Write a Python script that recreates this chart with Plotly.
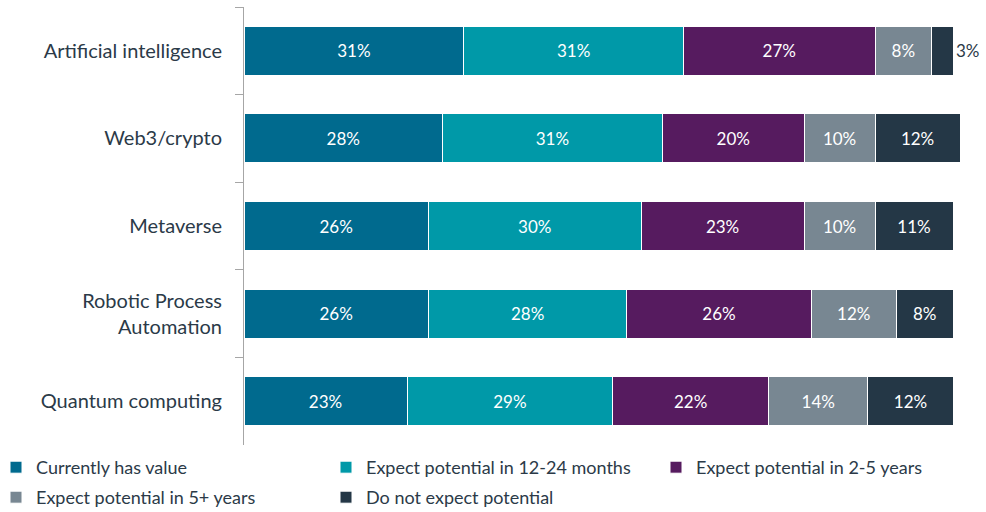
import plotly.graph_objects as go

categories = ["Artificial intelligence", "Web3/crypto", "Metaverse",
              "Robotic Process<br>Automation", "Quantum computing"]

series_names = ["Currently has value", "Expect potential in 12-24 months",
                "Expect potential in 2-5 years", "Expect potential in 5+ years",
                "Do not expect potential"]

currently_has_value = [31, 28, 26, 26, 23]
potential_12_24_months = [31, 31, 30, 28, 29]
potential_2_5_years = [27, 20, 23, 26, 22]
potential_5_plus_years = [8, 10, 10, 12, 14]
no_potential = [3, 12, 11, 8, 12]

series_values = [currently_has_value, potential_12_24_months, potential_2_5_years,
                 potential_5_plus_years, no_potential]
colors = ["#006A8E", "#0099A8", "#561B5F", "#788792", "#243746"]
# first three series sit on the upper legend row, the rest on the lower one
legend_rows = ["legend", "legend", "legend", "legend2", "legend2"]

FONT = "Lato, Carlito, Calibri, sans-serif"
TEXT_DARK = "#2B3A48"

W, H = 986, 512
M_L, M_R, M_T, M_B = 244, 0, 7, 67
PLOT_W = W - M_L - M_R
PLOT_H = H - M_T - M_B
FULL_BAR_PX = 709  # pixel length of a 100% bar

fig = go.Figure()
for name, vals, color, leg in zip(series_names, series_values, colors, legend_rows):
    # narrow segments get their label placed just past the bar end
    positions = ["outside" if v < 5 else "inside" for v in vals]
    text_colors = [TEXT_DARK if v < 5 else "white" for v in vals]
    fig.add_trace(go.Bar(
        name=name,
        y=categories,
        x=vals,
        orientation="h",
        legend=leg,
        marker=dict(color=color, line=dict(color="white", width=1)),
        text=[f"{v}%" for v in vals],
        textposition=positions,
        insidetextanchor="middle",
        textangle=0,
        constraintext="none",
        cliponaxis=False,
        textfont=dict(family=FONT, size=17, color=text_colors),
        hoverinfo="skip",
    ))

legend_common = dict(
    orientation="h",
    xref="paper", yref="paper",
    x=-(M_L + 4) / PLOT_W,
    xanchor="left", yanchor="top",
    entrywidth=285,
    entrywidthmode="pixels",
    traceorder="normal",
    itemwidth=30,
    bgcolor="rgba(0,0,0,0)",
    font=dict(family=FONT, size=18, color=TEXT_DARK),
)

fig.update_layout(
    barmode="stack",
    bargap=0.44,
    width=W,
    height=H,
    margin=dict(l=M_L, r=M_R, t=M_T, b=M_B, autoexpand=False),
    paper_bgcolor="white",
    plot_bgcolor="white",
    font=dict(family=FONT, color=TEXT_DARK),
    showlegend=True,
    legend=dict(legend_common, y=-4 / PLOT_H),
    legend2=dict(legend_common, y=-34 / PLOT_H),
    xaxis=dict(
        range=[0, 100 * PLOT_W / FULL_BAR_PX],
        visible=False,
        showgrid=False,
        zeroline=False,
    ),
    yaxis=dict(
        autorange="reversed",
        showline=True,
        linecolor="#A6A6A6",
        linewidth=1,
        ticks="outside",
        ticklen=8,
        tickcolor="#A6A6A6",
        tickson="boundaries",
        showgrid=False,
        ticklabelstandoff=17,
        tickfont=dict(family=FONT, size=20, color=TEXT_DARK),
    ),
)

fig.write_html("out.html")
